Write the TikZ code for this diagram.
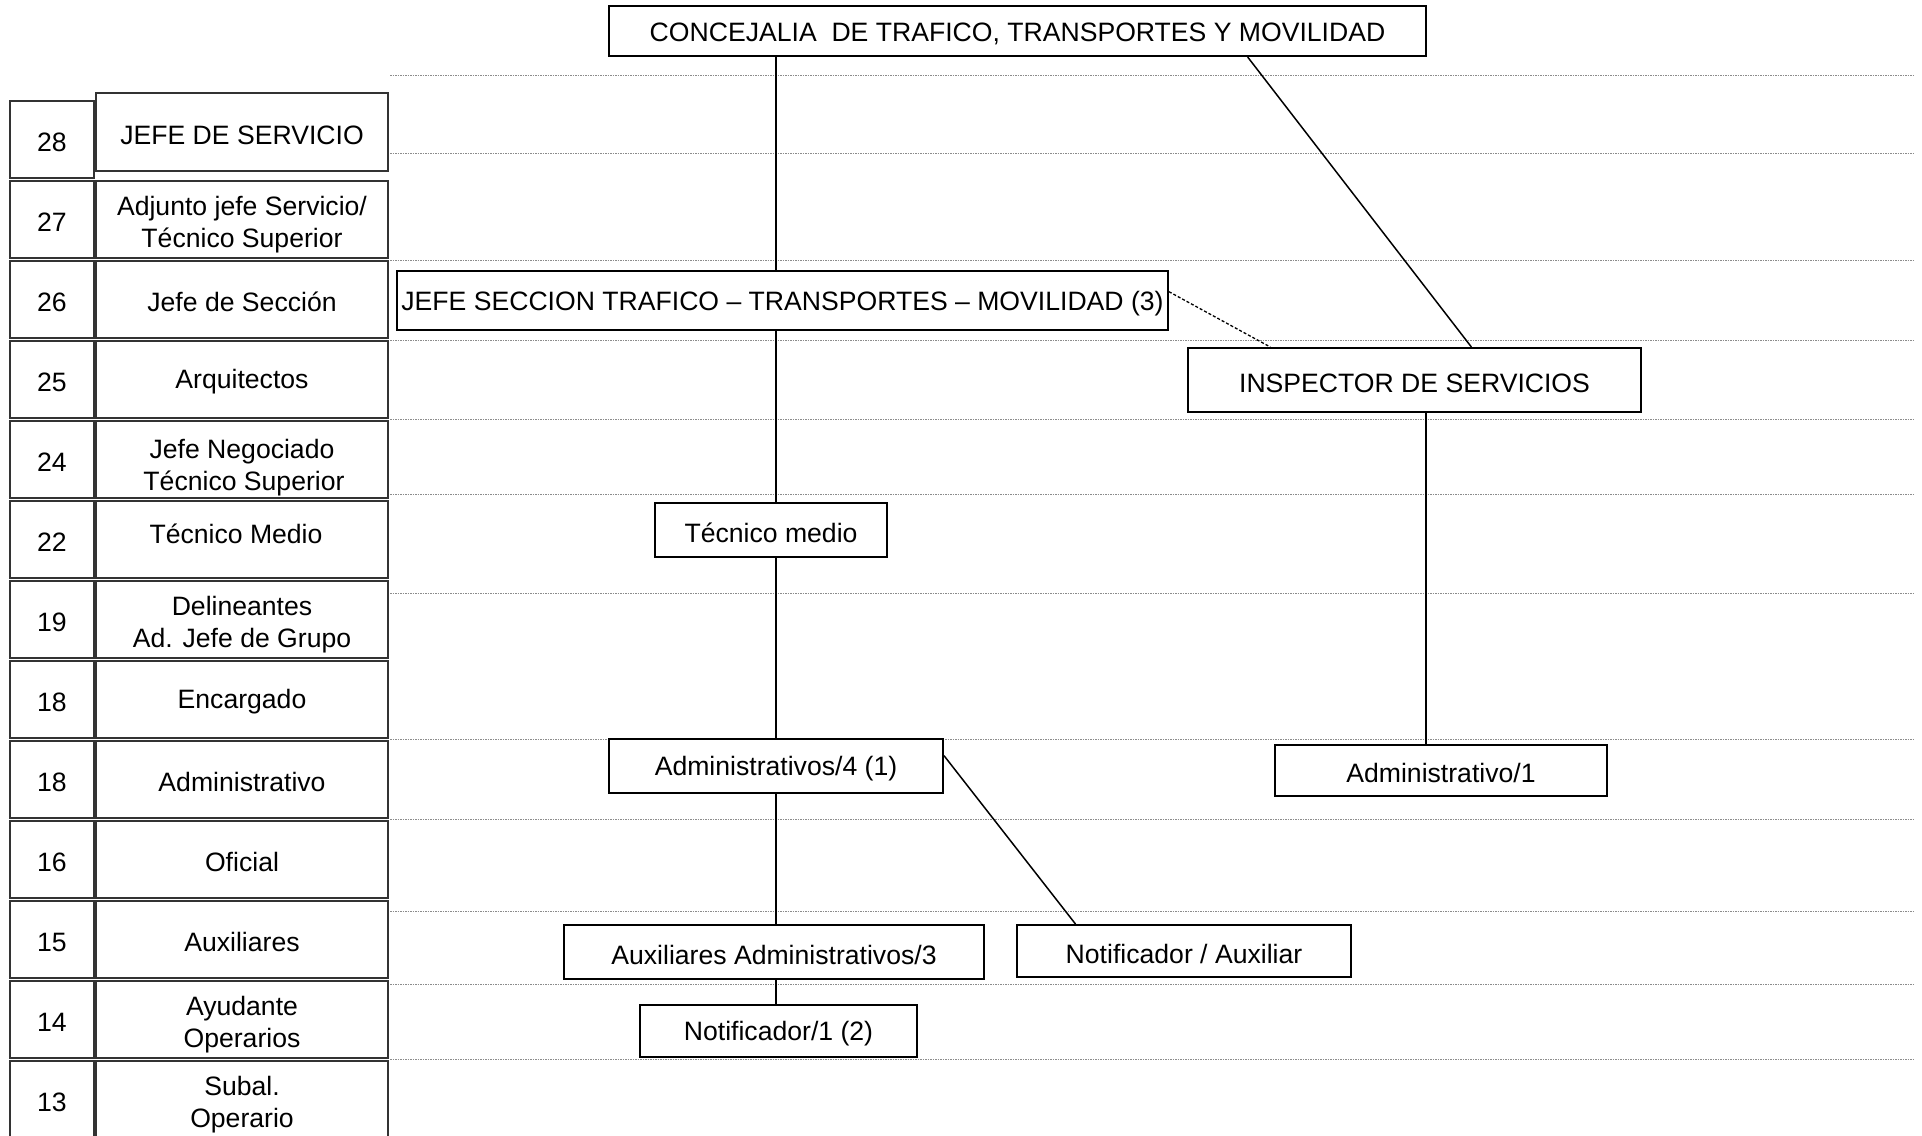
\documentclass[tikz,border=0pt]{standalone}
\usepackage{fontspec}
\setmainfont{Liberation Sans}
\usetikzlibrary{calc}
\newcommand{\txtfont}{\fontsize{26.6}{32}\selectfont}
\newcommand{\toplift}{\rule{0pt}{24.5pt}}
\begin{document}
\begin{tikzpicture}[x=1pt,y=-1pt,
  numbox/.style={draw=black!80, line width=1.3pt, inner sep=0pt, align=center,
    minimum width=84pt, minimum height=77pt, font=\txtfont,
    execute at begin node=\toplift},
  lblbox/.style={draw=black!80, line width=1.3pt, inner sep=0pt, align=center,
    minimum width=292pt, minimum height=77pt, font=\txtfont,
    execute at begin node=\toplift},
  orgbox/.style={draw=black, line width=2pt, inner sep=0pt, align=center,
    font=\txtfont, execute at begin node=\toplift},
  link/.style={draw=black, line width=1.5pt},
  dlink/.style={draw=black, line width=1.3pt, dash pattern=on 3pt off 2pt},
  guide/.style={draw=black!45, line width=1pt, dash pattern=on 1.5pt off 1pt}]
\useasboundingbox[fill=white] (0,0) rectangle (1922,1135);

% guide lines
\foreach \yy in {75,153,260,340,419,494,593,739,819,911,984,1059}
  \draw[guide] (390,\yy) -- (1915,\yy);

% grade table
\node[numbox] (n28) at (52,139.5) {28};
\node[lblbox, minimum height=78pt] (l28) at (242,132) {JEFE DE SERVICIO};
\node[numbox] (n27) at (52,219.5) {27};
\node[lblbox] (l27) at (242,219.5) {\rule{0pt}{30pt}Adjunto jefe Servicio/\\Técnico Superior};
\node[numbox] (n26) at (52,299.5) {26};
\node[lblbox] (l26) at (242,299.5) {Jefe de Sección};
\node[numbox] (n25) at (52,379.5) {25};
\node[lblbox] (l25) at (242,379.5) {Arquitectos};
\node[numbox] (n24) at (52,459.5) {24};
\node[lblbox] (l24) at (242,459.5) {\rule{0pt}{36pt}Jefe Negociado\\\hspace*{4pt}Técnico Superior};
\node[numbox] (n22) at (52,539.5) {22};
\node[lblbox] (l22) at (242,539.5) {Técnico Medio\hspace*{12pt}\rule[-17pt]{0pt}{0pt}};
\node[numbox] (n19) at (52,619.5) {19};
\node[lblbox] (l19) at (242,619.5) {\rule{0pt}{30pt}Delineantes\\Ad. Jefe de Grupo};
\node[numbox] (n18a) at (52,699.5) {18};
\node[lblbox] (l18a) at (242,699.5) {Encargado};
\node[numbox] (n18b) at (52,779.5) {18};
\node[lblbox] (l18b) at (242,779.5) {Administrativo};
\node[numbox] (n16) at (52,859.5) {16};
\node[lblbox] (l16) at (242,859.5) {Oficial};
\node[numbox] (n15) at (52,939.5) {15};
\node[lblbox] (l15) at (242,939.5) {Auxiliares};
\node[numbox] (n14) at (52,1019.5) {14};
\node[lblbox] (l14) at (242,1019.5) {\rule{0pt}{30pt}Ayudante\\Operarios};
\node[numbox] (n13) at (52,1099.5) {13};
\node[lblbox] (l13) at (242,1099.5) {\rule{0pt}{30pt}Subal.\\Operario};

% org chart
\node[orgbox, minimum width=817pt, minimum height=50pt] (conc) at (1017.5,31)
  {CONCEJALIA\ \ DE TRAFICO, TRANSPORTES Y MOVILIDAD};
\node[orgbox, minimum width=771pt, minimum height=59pt] (jefe) at (782.5,300.5)
  {JEFE SECCION TRAFICO -- TRANSPORTES -- MOVILIDAD (3)};
\node[orgbox, minimum width=453pt, minimum height=64pt] (insp) at (1414.5,380)
  {INSPECTOR DE SERVICIOS};
\node[orgbox, minimum width=232pt, minimum height=54pt] (tec) at (771,530)
  {Técnico medio};
\node[orgbox, minimum width=334pt, minimum height=54pt] (adm4) at (776,766)
  {Administrativos/4 (1)};
\node[orgbox, minimum width=332pt, minimum height=51pt] (adm1) at (1441,770.5)
  {Administrativo/1};
\node[orgbox, minimum width=420pt, minimum height=54pt] (aux3) at (774,952)
  {Auxiliares Administrativos/3};
\node[orgbox, minimum width=334pt, minimum height=52pt] (notaux) at (1184,951)
  {Notificador / Auxiliar};
\node[orgbox, minimum width=277pt, minimum height=52pt] (not1) at (778.5,1031)
  {Notificador/1 (2)};

% connectors
\draw[link] (conc.south -| adm4.north) -- (jefe.north -| adm4.north);
\draw[link] (jefe.south -| adm4.north) -- (tec.north -| adm4.north);
\draw[link] (tec.south -| adm4.north) -- (adm4.north);
\draw[link] (adm4.south) -- (aux3.north -| adm4.south);
\draw[link] (aux3.south -| adm4.south) -- (not1.north -| adm4.south);
\draw[link] ($(conc.south west)!0.781!(conc.south east)$) -- ($(insp.north west)!0.625!(insp.north east)$);
\draw[dlink] ($(jefe.north east)!0.356!(jefe.south east)$) -- ($(insp.north west)!0.183!(insp.north east)$);
\coordinate (ia) at ($(insp.south west)!0.525!(insp.south east)$);
\draw[link] (ia) -- (adm1.north -| ia);
\draw[link] ($(adm4.north east)!0.315!(adm4.south east)$) -- ($(notaux.north west)!0.177!(notaux.north east)$);
\end{tikzpicture}
\end{document}
